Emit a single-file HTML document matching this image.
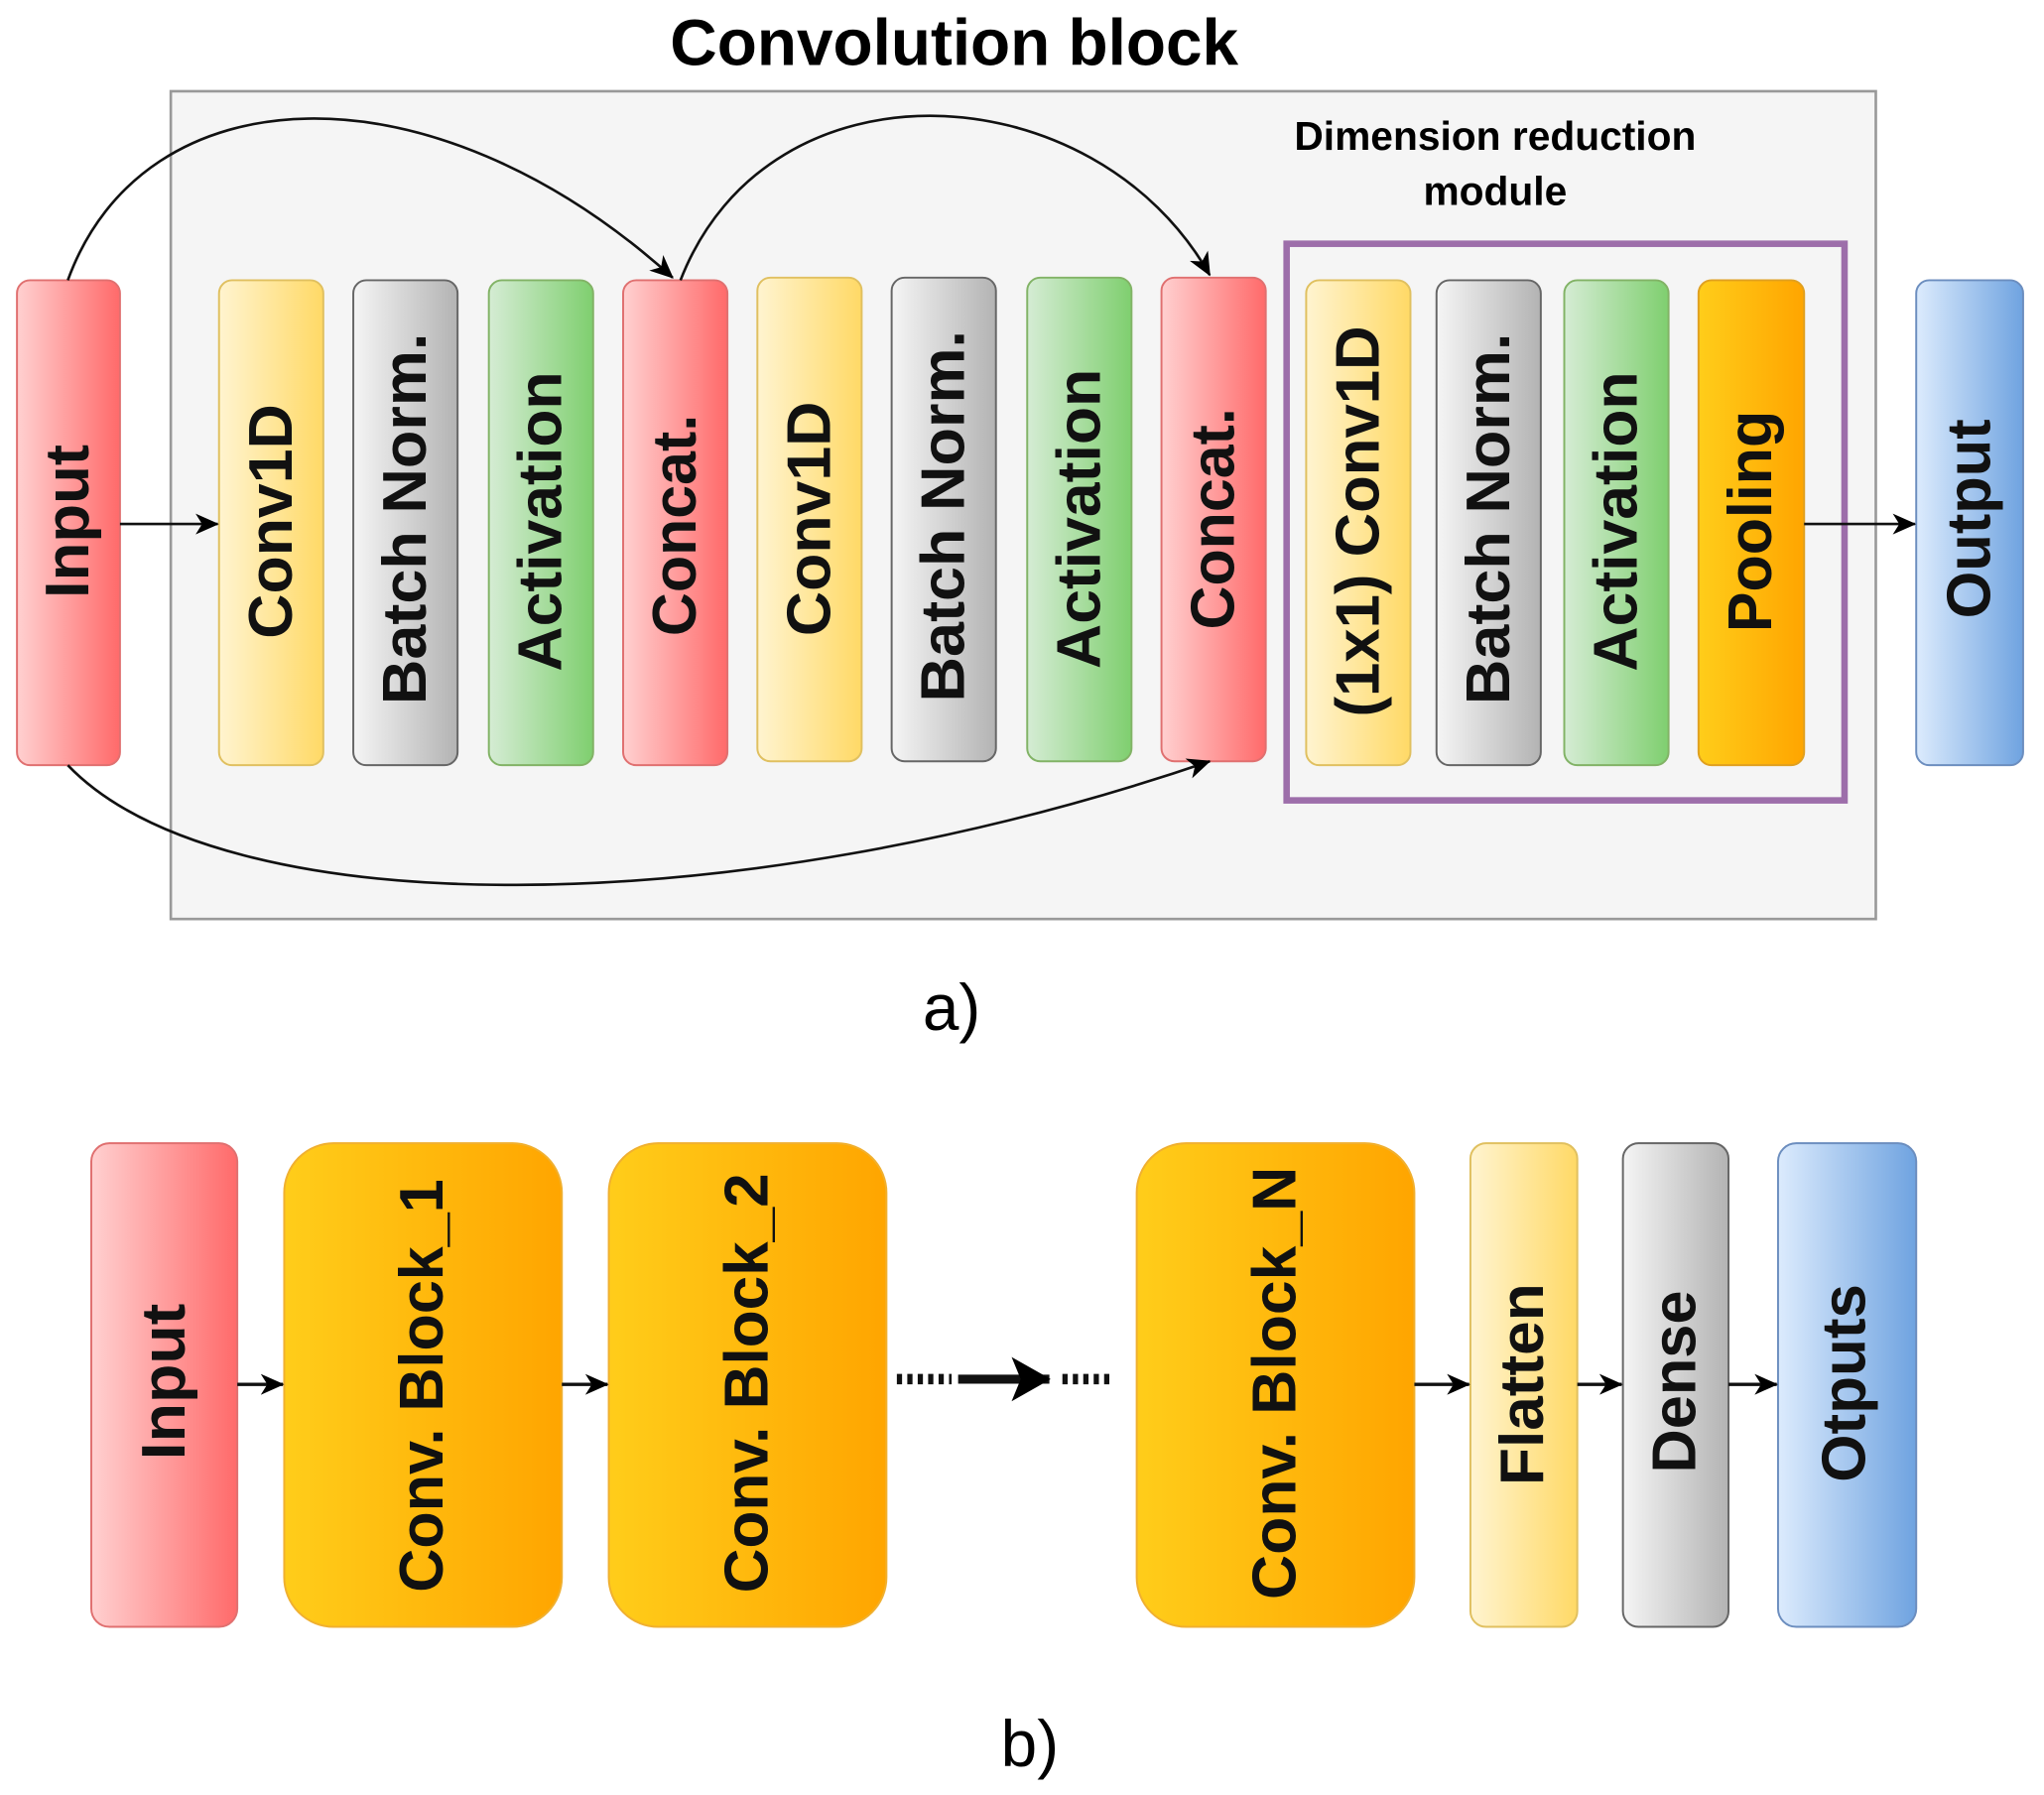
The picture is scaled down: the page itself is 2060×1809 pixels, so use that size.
<!DOCTYPE html>
<html><head><meta charset="utf-8"><style>html,body{margin:0;padding:0;background:#fff}svg{display:block}</style></head>
<body>
<svg width="2060" height="1809" viewBox="0 0 1568 1377" xmlns="http://www.w3.org/2000/svg" font-family="Liberation Sans, Arial, sans-serif">
<defs>
<linearGradient id="r" x1="0" x2="1"><stop offset="0" stop-color="#ffd0d0"/><stop offset="1" stop-color="#ff6a6a"/></linearGradient>
<linearGradient id="y" x1="0" x2="1"><stop offset="0" stop-color="#fff4d0"/><stop offset="1" stop-color="#ffd966"/></linearGradient>
<linearGradient id="g" x1="0" x2="1"><stop offset="0" stop-color="#f5f5f5"/><stop offset="1" stop-color="#b3b3b3"/></linearGradient>
<linearGradient id="gr" x1="0" x2="1"><stop offset="0" stop-color="#d5ecd4"/><stop offset="1" stop-color="#7fcf6f"/></linearGradient>
<linearGradient id="o" x1="0" x2="1"><stop offset="0" stop-color="#ffcd1a"/><stop offset="1" stop-color="#ffa500"/></linearGradient>
<linearGradient id="b" x1="0" x2="1"><stop offset="0" stop-color="#dcebfd"/><stop offset="1" stop-color="#6fa3e0"/></linearGradient>
<marker id="ah" markerWidth="18" markerHeight="18" refX="17" refY="9" orient="auto" markerUnits="userSpaceOnUse" viewBox="0 0 18 18"><path d="M0,1 L18,9 L0,17 L5,9 z" fill="#000"/></marker>
<marker id="ah2" markerWidth="30" markerHeight="34" refX="29" refY="17" orient="auto" markerUnits="userSpaceOnUse" viewBox="0 0 30 34"><path d="M0,0 L30,17 L0,34 L7,17 z" fill="#000"/></marker>
</defs>
<style>.t{font-weight:bold;font-size:47px;fill:#111}</style>

<text x="732" y="50" text-anchor="middle" font-weight="bold" font-size="50">Convolution block</text>
<rect x="131" y="70" width="1308" height="635" fill="#f5f5f5" stroke="#999" stroke-width="2"/>
<text x="1147" y="115" text-anchor="middle" font-weight="bold" font-size="31">Dimension reduction</text>
<text x="1147" y="157" text-anchor="middle" font-weight="bold" font-size="31">module</text>
<rect x="987" y="187" width="428" height="427" fill="none" stroke="#9d6eaa" stroke-width="5"/>

<g stroke-width="1.5">
<rect x="13" y="215" width="79" height="372" rx="10" fill="url(#r)" stroke="#e07070"/>
<rect x="168" y="215" width="80" height="372" rx="10" fill="url(#y)" stroke="#e0c060"/>
<rect x="271" y="215" width="80" height="372" rx="10" fill="url(#g)" stroke="#666"/>
<rect x="375" y="215" width="80" height="372" rx="10" fill="url(#gr)" stroke="#82b366"/>
<rect x="478" y="215" width="80" height="372" rx="10" fill="url(#r)" stroke="#e07070"/>
<rect x="581" y="213" width="80" height="371" rx="10" fill="url(#y)" stroke="#e0c060"/>
<rect x="684" y="213" width="80" height="371" rx="10" fill="url(#g)" stroke="#666"/>
<rect x="788" y="213" width="80" height="371" rx="10" fill="url(#gr)" stroke="#82b366"/>
<rect x="891" y="213" width="80" height="371" rx="10" fill="url(#r)" stroke="#e07070"/>
<rect x="1002" y="215" width="80" height="372" rx="10" fill="url(#y)" stroke="#e0c060"/>
<rect x="1102" y="215" width="80" height="372" rx="10" fill="url(#g)" stroke="#666"/>
<rect x="1200" y="215" width="80" height="372" rx="10" fill="url(#gr)" stroke="#82b366"/>
<rect x="1303" y="215" width="81" height="372" rx="10" fill="url(#o)" stroke="#e0a020"/>
<rect x="1470" y="215" width="82" height="372" rx="10" fill="url(#b)" stroke="#6c8ebf"/>
</g>

<g text-anchor="middle" dominant-baseline="central">
<text class="t" lengthAdjust="spacingAndGlyphs" transform="translate(52,400) rotate(-90)" textLength="118">Input</text>
<text class="t" lengthAdjust="spacingAndGlyphs" transform="translate(208,400) rotate(-90)" textLength="180">Conv1D</text>
<text class="t" lengthAdjust="spacingAndGlyphs" transform="translate(311,398) rotate(-90)" textLength="285">Batch Norm.</text>
<text class="t" lengthAdjust="spacingAndGlyphs" transform="translate(415,400) rotate(-90)" textLength="230">Activation</text>
<text class="t" lengthAdjust="spacingAndGlyphs" transform="translate(518,403) rotate(-90)" textLength="170">Concat.</text>
<text class="t" lengthAdjust="spacingAndGlyphs" transform="translate(621,398) rotate(-90)" textLength="180">Conv1D</text>
<text class="t" lengthAdjust="spacingAndGlyphs" transform="translate(724,396) rotate(-90)" textLength="285">Batch Norm.</text>
<text class="t" lengthAdjust="spacingAndGlyphs" transform="translate(828,398) rotate(-90)" textLength="230">Activation</text>
<text class="t" lengthAdjust="spacingAndGlyphs" transform="translate(931,398) rotate(-90)" textLength="170">Concat.</text>
<text class="t" lengthAdjust="spacingAndGlyphs" transform="translate(1042,400) rotate(-90)" textLength="300">(1x1) Conv1D</text>
<text class="t" lengthAdjust="spacingAndGlyphs" transform="translate(1142,398) rotate(-90)" textLength="285">Batch Norm.</text>
<text class="t" lengthAdjust="spacingAndGlyphs" transform="translate(1240,400) rotate(-90)" textLength="230">Activation</text>
<text class="t" lengthAdjust="spacingAndGlyphs" transform="translate(1343,400) rotate(-90)" textLength="170">Pooling</text>
<text class="t" lengthAdjust="spacingAndGlyphs" transform="translate(1511,398) rotate(-90)" textLength="153">Output</text>
</g>

<g fill="none" stroke="#111" stroke-width="2">
<line x1="92" y1="402" x2="167" y2="402" marker-end="url(#ah)"/>
<line x1="1384" y1="402" x2="1469" y2="402" marker-end="url(#ah)"/>
<path d="M52,215 C110,55 330,45 516,213" marker-end="url(#ah)"/>
<path d="M522,215 C590,40 840,55 928,211" marker-end="url(#ah)"/>
<path d="M52,587 C170,710 560,710 928,584" marker-end="url(#ah)"/>
</g>

<text x="730" y="790" text-anchor="middle" font-size="50">a)</text>

<g stroke-width="1.5">
<rect x="70" y="877" width="112" height="371" rx="14" fill="url(#r)" stroke="#e07070"/>
<rect x="218" y="877" width="213" height="371" rx="38" fill="url(#o)" stroke="#f0b030"/>
<rect x="467" y="877" width="213" height="371" rx="38" fill="url(#o)" stroke="#f0b030"/>
<rect x="872" y="877" width="213" height="371" rx="38" fill="url(#o)" stroke="#f0b030"/>
<rect x="1128" y="877" width="82" height="371" rx="12" fill="url(#y)" stroke="#e0c060"/>
<rect x="1245" y="877" width="81" height="371" rx="12" fill="url(#g)" stroke="#666"/>
<rect x="1364" y="877" width="106" height="371" rx="14" fill="url(#b)" stroke="#6c8ebf"/>
</g>
<g text-anchor="middle" dominant-baseline="central">
<text class="t" lengthAdjust="spacingAndGlyphs" transform="translate(126,1060) rotate(-90)" textLength="120">Input</text>
<text class="t" lengthAdjust="spacingAndGlyphs" transform="translate(324,1063) rotate(-90)" textLength="317">Conv. Block_1</text>
<text class="t" lengthAdjust="spacingAndGlyphs" transform="translate(573,1061) rotate(-90)" textLength="322">Conv. Block_2</text>
<text class="t" lengthAdjust="spacingAndGlyphs" transform="translate(978,1061) rotate(-90)" textLength="332">Conv. Block_N</text>
<text class="t" lengthAdjust="spacingAndGlyphs" transform="translate(1168,1062) rotate(-90)" textLength="155">Flatten</text>
<text class="t" lengthAdjust="spacingAndGlyphs" transform="translate(1285,1060) rotate(-90)" textLength="140">Dense</text>
<text class="t" lengthAdjust="spacingAndGlyphs" transform="translate(1415,1061) rotate(-90)" textLength="152">Otputs</text>
</g>
<g fill="none" stroke="#111" stroke-width="2.5">
<line x1="182" y1="1062" x2="217" y2="1062" marker-end="url(#ah)"/>
<line x1="431" y1="1062" x2="466" y2="1062" marker-end="url(#ah)"/>
<line x1="1085" y1="1062" x2="1127" y2="1062" marker-end="url(#ah)"/>
<line x1="1210" y1="1062" x2="1244" y2="1062" marker-end="url(#ah)"/>
<line x1="1326" y1="1062" x2="1363" y2="1062" marker-end="url(#ah)"/>
<line x1="688" y1="1058" x2="730" y2="1058" stroke-width="8" stroke-dasharray="4,4"/>
<line x1="735" y1="1058" x2="805" y2="1058" stroke-width="7" marker-end="url(#ah2)"/>
<line x1="815" y1="1058" x2="852" y2="1058" stroke-width="8" stroke-dasharray="4,4"/>
</g>
<text x="790" y="1355" text-anchor="middle" font-size="50">b)</text>
</svg>
</body></html>
